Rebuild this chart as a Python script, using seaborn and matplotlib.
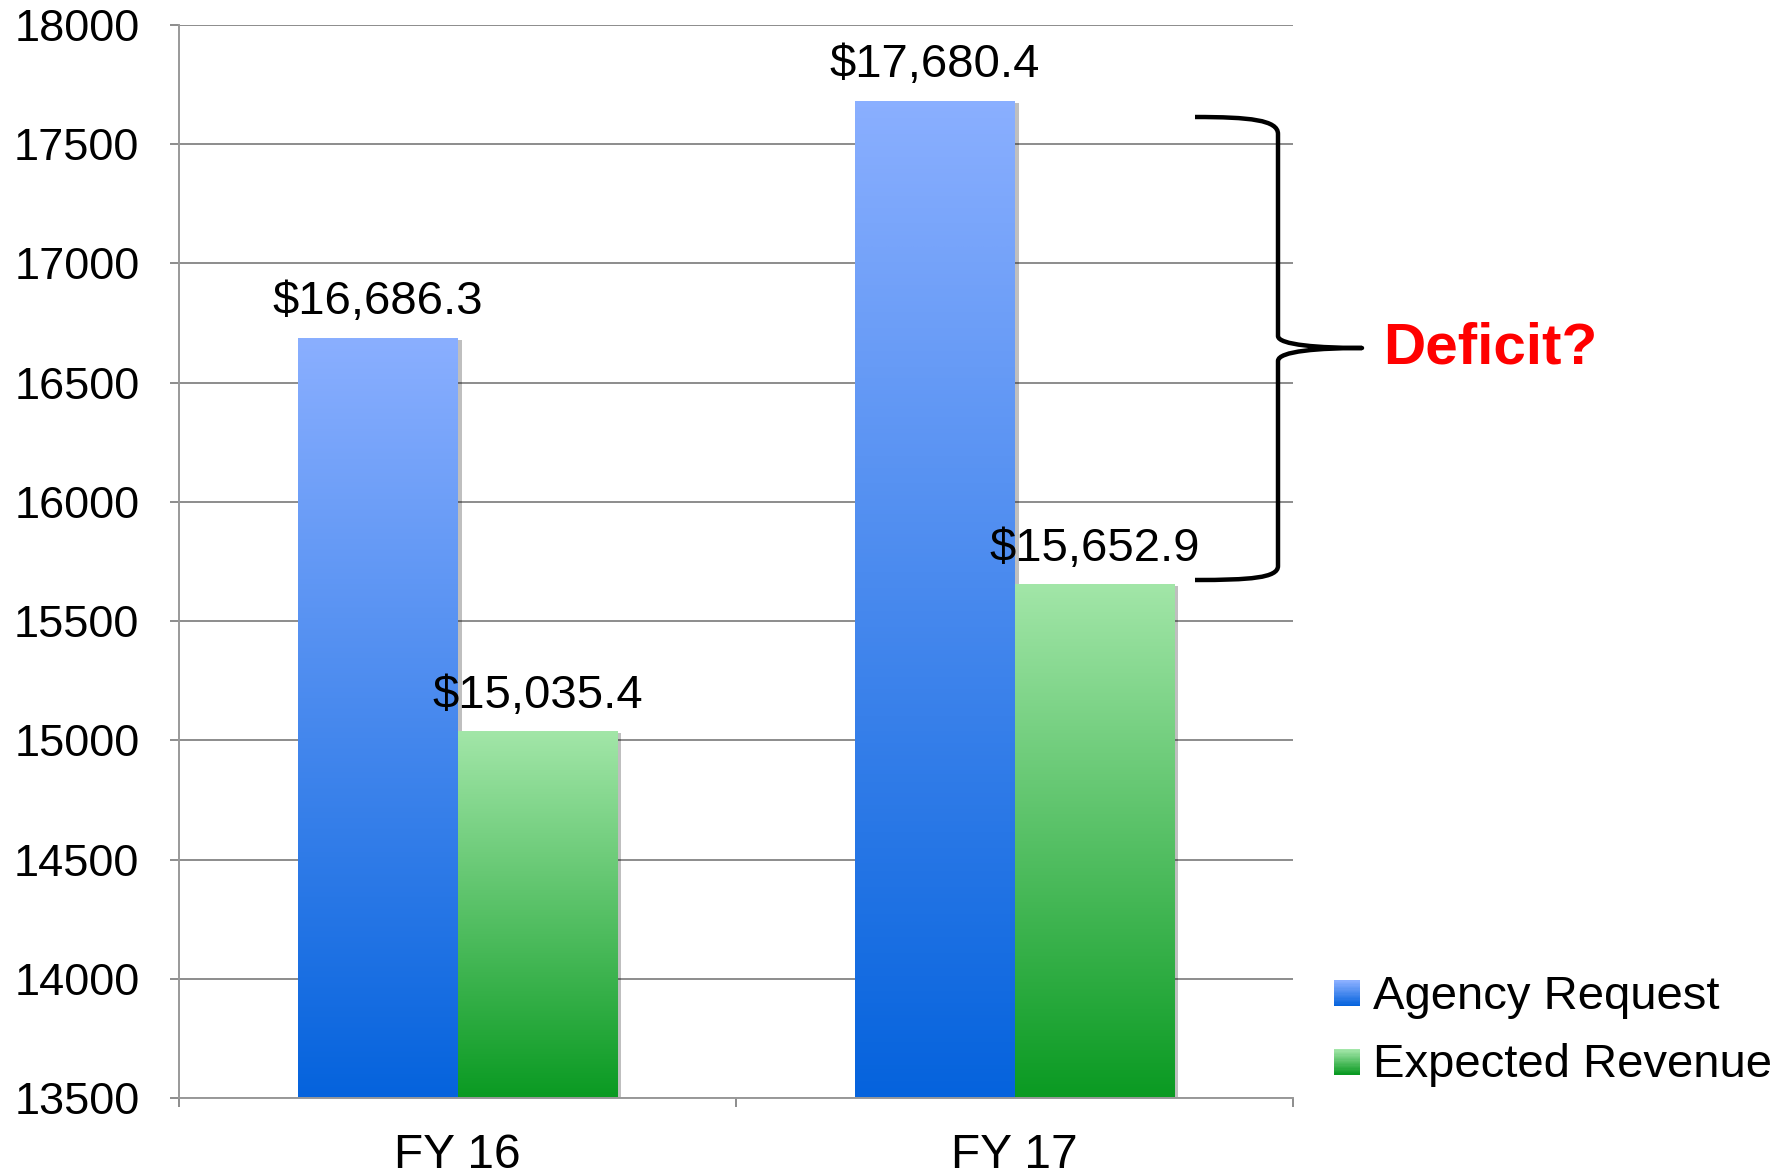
import numpy as np
import pandas as pd
import matplotlib
matplotlib.use("Agg")
import matplotlib.pyplot as plt
import seaborn as sns
from matplotlib.patches import Rectangle
from matplotlib.path import Path
from matplotlib.patches import PathPatch
from matplotlib.legend_handler import HandlerBase
from matplotlib.colors import LinearSegmentedColormap
import matplotlib.patheffects as pe

years = ["FY 16", "FY 17"]
series = ["Agency Request", "Expected Revenue"]
agency_request = [16686.3, 17680.4]
expected_revenue = [15035.4, 15652.9]
y_ticks = [13500, 14000, 14500, 15000, 15500, 16000, 16500, 17000, 17500, 18000]

grad_colors = {
    "Agency Request": ("#0563DD", "#8AAFFF"),
    "Expected Revenue": ("#0A9A22", "#A2E6A8"),
}

df = pd.DataFrame({
    "year": years * 2,
    "value": agency_request + expected_revenue,
    "series": [series[0]] * 2 + [series[1]] * 2,
})

sns.set_style("white")
plt.rcParams["font.family"] = ["Liberation Sans", "DejaVu Sans"]
plt.rcParams["text.color"] = "black"
plt.rcParams["xtick.labelcolor"] = "black"
plt.rcParams["ytick.labelcolor"] = "black"

fig, ax = plt.subplots(figsize=(17.75, 11.76), dpi=100)
fig.subplots_adjust(left=179 / 1775, right=1293 / 1775, top=1 - 25 / 1176, bottom=1 - 1098 / 1176)

mid_palette = {s: c[1] for s, c in grad_colors.items()}
sns.barplot(data=df, x="year", y="value", hue="series", palette=mid_palette,
            width=0.573, ax=ax, legend=False, saturation=1, edgecolor="none")

ymin, ymax = y_ticks[0], y_ticks[-1]
ax.set_ylim(ymin, ymax)
ax.set_xlim(-0.5, 1.5)

grad = np.linspace(0, 1, 256).reshape(-1, 1)
for cont, s in zip(ax.containers, series):
    cmap = LinearSegmentedColormap.from_list(s, list(grad_colors[s]))
    for p in cont.patches:
        p.set_path_effects([pe.SimplePatchShadow(offset=(3, -1), shadow_rgbFace="#000000", alpha=0.25),
                            pe.Normal()])
        x0 = p.get_x()
        x1 = x0 + p.get_width()
        h = p.get_height()
        ax.imshow(grad, extent=[x0, x1, ymin, h], origin="lower", aspect="auto",
                  cmap=cmap, zorder=p.get_zorder() + 0.1, interpolation="bilinear")
    ax.bar_label(cont, labels=[f"${v:,.1f}" for v in cont.datavalues], padding=10,
                 fontsize=34, color="black")

ax.set_ylim(ymin, ymax)
ax.set_xlim(-0.5, 1.5)
ax.set_yticks(y_ticks)
ax.set_xticks([0, 1])
ax.set_xticks([-0.5, 0.5, 1.5], minor=True)
ax.set_xticklabels(years)
ax.set_xlabel("")
ax.set_ylabel("")

grid_c = "#8c8c8c"
ax.set_axisbelow(True)
ax.yaxis.grid(True, color=grid_c, linewidth=1.4)
ax.xaxis.grid(False)
for side in ["top", "right"]:
    ax.spines[side].set_visible(False)
for side in ["left", "bottom"]:
    ax.spines[side].set_color("#999999")
    ax.spines[side].set_linewidth(1.4)

ax.tick_params(axis="y", which="major", length=6.5, width=1.4, color=grid_c,
               labelsize=32.5, pad=22, left=True, labelcolor="black")
ax.tick_params(axis="x", which="major", length=0, labelsize=34.5, pad=25, labelcolor="black")
ax.tick_params(axis="x", which="minor", length=6.5, width=1.4, color=grid_c, bottom=True)


class GradHandler(HandlerBase):
    def __init__(self, c_bottom, c_top):
        super().__init__()
        self.cmap = LinearSegmentedColormap.from_list("h", [c_bottom, c_top])

    def create_artists(self, legend, orig_handle, xdescent, ydescent, width, height, fontsize, trans):
        n = 20
        arts = []
        side = min(width, height)
        for i in range(n):
            r = Rectangle((-xdescent, -ydescent + side * i / n), side, side / n + 0.3,
                          facecolor=self.cmap(i / (n - 1)), edgecolor="none", transform=trans)
            arts.append(r)
        return arts


handles = [Rectangle((0, 0), 1, 1) for _ in series]
hmap = {handles[i]: GradHandler(*grad_colors[s]) for i, s in enumerate(series)}
fig.legend(handles, series, handler_map=hmap, loc="center left",
           bbox_to_anchor=(1334 / 1775, 1 - 1031 / 1176), frameon=False, fontsize=34,
           handlelength=0.54, handleheight=0.54, handletextpad=0.28, labelspacing=0.52,
           borderpad=0, borderaxespad=0)

# Brace (figure pixel coordinates converted to fraction)
W, H = 1775, 1176
def P(x, y):
    return (x / W, 1 - y / H)

verts = [P(1195, 117), P(1250, 117), P(1278, 120), P(1278, 134),
         P(1278, 336),
         P(1278, 345), P(1320, 348), P(1362, 348),
         P(1320, 348), P(1278, 351), P(1278, 361),
         P(1278, 566),
         P(1278, 578), P(1250, 580), P(1195, 580)]
codes = [Path.MOVETO, Path.CURVE4, Path.CURVE4, Path.CURVE4,
         Path.LINETO,
         Path.CURVE4, Path.CURVE4, Path.CURVE4,
         Path.CURVE4, Path.CURVE4, Path.CURVE4,
         Path.LINETO,
         Path.CURVE4, Path.CURVE4, Path.CURVE4]
brace = PathPatch(Path(verts, codes), transform=fig.transFigure, facecolor="none",
                  edgecolor="black", linewidth=3.2, capstyle="butt", joinstyle="round")
fig.patches.append(brace)

fig.text(1490 / W, 1 - 349 / H, "Deficit?", color="#FF0000", fontsize=42,
         fontweight="bold", ha="center", va="center")

fig.savefig("out.png", dpi=100)
